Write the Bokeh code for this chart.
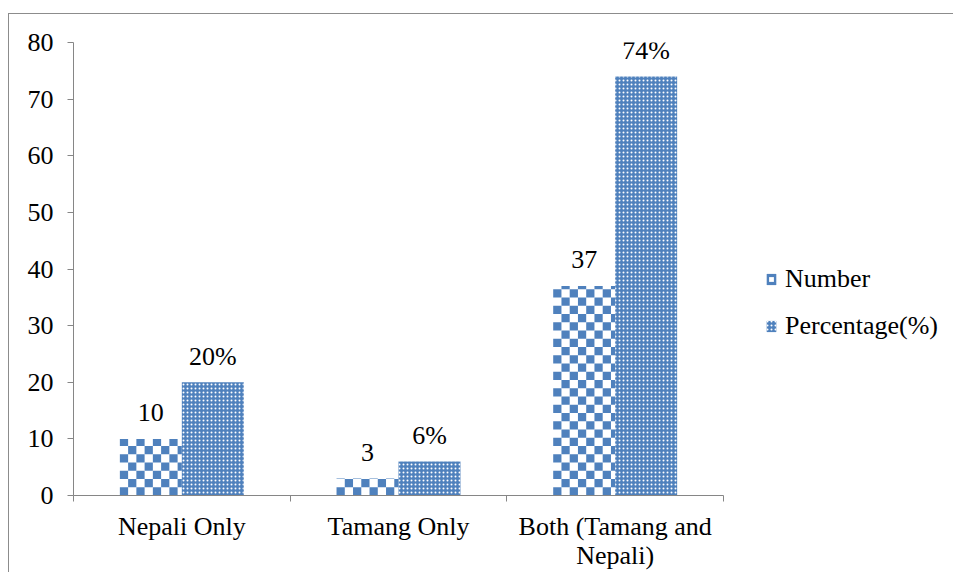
import numpy as np
from bokeh.plotting import figure
from bokeh.models import Range1d, FixedTicker, ColumnDataSource, Legend, LegendItem
from bokeh.core.properties import value
from bokeh.embed import file_html
from bokeh.resources import INLINE

# ---- data ----
categories = ["Nepali Only", "Tamang Only", "Both (Tamang and\nNepali)"]
number_values = [10, 3, 37]
percentage_values = [20, 6, 74]
number_labels = ["10", "3", "37"]
percentage_labels = ["20%", "6%", "74%"]
series_names = ["Number", "Percentage(%)"]
y_ticks = [0, 10, 20, 30, 40, 50, 60, 70, 80]

BLUE = "#4F81BD"
AXIS = "#868686"
FONT = "Liberation Serif"
FS = "26px"
BAR_W = 0.286
FRAME_W = 650
FRAME_H = 453
EXTRA_W = 220  # room at the right of the frame for the legend
CELL_PX = 8.25  # checker cell size in screen pixels

idx = np.arange(len(categories)) + 0.5
num_x = idx - BAR_W / 2
pct_x = idx + BAR_W / 2
src_num = ColumnDataSource(dict(x=num_x, top=number_values, label=number_labels))
src_pct = ColumnDataSource(dict(x=pct_x, top=percentage_values, label=percentage_labels))

# checkerboard cells that fill each "Number" bar (derived from the bar data)
cx = CELL_PX / (FRAME_W / 3.0)
cy = CELL_PX / (FRAME_H / 80.0)
L, R, B, T = [], [], [], []
for xc, v in zip(num_x, number_values):
    left, right = xc - BAR_W / 2, xc + BAR_W / 2
    ncol = int(np.ceil(BAR_W / cx))
    nrow = int(np.ceil(v / cy))
    for r in range(nrow):
        for c in range(ncol):
            if (r + c) % 2 == 0:
                L.append(left + c * cx)
                R.append(min(left + (c + 1) * cx, right))
                B.append(r * cy)
                T.append(min((r + 1) * cy, v))
src_cells = ColumnDataSource(dict(left=L, right=R, bottom=B, top=T))

x_end = 3 * (FRAME_W + EXTRA_W) / FRAME_W
p = figure(frame_width=FRAME_W + EXTRA_W, frame_height=FRAME_H,
           x_range=Range1d(0, x_end), y_range=Range1d(0, 80),
           output_backend="svg", toolbar_location=None,
           min_border_left=64, min_border_right=10,
           min_border_top=28, min_border_bottom=77)
p.styles = {"margin-top": "13px", "margin-left": "8px",
            "border-left": "1px solid #8c8c8c", "border-top": "1px solid #8c8c8c"}

r_cells = p.quad(left="left", right="right", bottom="bottom", top="top", source=src_cells,
                 fill_color=BLUE, line_color=None)
r_pct = p.vbar(x="x", top="top", width=BAR_W, source=src_pct,
               fill_color=BLUE, line_color=None,
               hatch_pattern="dot", hatch_color="white", hatch_scale=4, hatch_weight=1)
# zero-size marker: invisible on the plot, gives the white notch in the legend swatch
r_notch = p.scatter(x="x", y="top", source=src_num, size=0, marker="square",
                    fill_color="white", line_color=None)

for src in (src_num, src_pct):
    p.text(x="x", y="top", text="label", source=src,
           text_font=value(FONT), text_font_size=FS, text_color="black",
           text_align="center", text_baseline="alphabetic", y_offset=-26)

p.xgrid.visible = False
p.ygrid.visible = False
p.outline_line_color = None
p.background_fill_color = "white"
p.border_fill_color = "white"

xa = p.xaxis[0]
xa.bounds = (0, 3)
xa.ticker = FixedTicker(ticks=list(idx), minor_ticks=[0, 1, 2, 3])
xa.major_label_overrides = {float(v): c for v, c in zip(idx, categories)}
xa.major_tick_line_color = None
xa.major_tick_out = 6
xa.major_tick_in = 0
xa.minor_tick_out = 6
xa.minor_tick_in = 0
xa.minor_tick_line_color = AXIS
xa.axis_line_color = AXIS
xa.major_label_text_font = FONT
xa.major_label_text_font_size = FS
xa.major_label_text_color = "black"
xa.major_label_text_line_height = 1.0
xa.major_label_standoff = 10

ya = p.yaxis[0]
ya.ticker = FixedTicker(ticks=y_ticks)
ya.major_tick_out = 6
ya.major_tick_in = 0
ya.minor_tick_line_color = None
ya.major_tick_line_color = AXIS
ya.axis_line_color = AXIS
ya.major_label_text_font = FONT
ya.major_label_text_font_size = FS
ya.major_label_text_color = "black"
ya.major_label_standoff = 14

legend = Legend(items=[LegendItem(label=series_names[0], renderers=[r_cells, r_notch]),
                       LegendItem(label=series_names[1], renderers=[r_pct])],
                location=(692, 154), orientation="vertical",
                label_text_font=FONT, label_text_font_size=FS, label_text_color="black",
                glyph_width=12, glyph_height=14, label_standoff=8,
                label_height=30, spacing=17, padding=0, margin=0,
                border_line_color=None, background_fill_alpha=0)
p.add_layout(legend, "center")

open("out.html", "w").write(file_html(p, INLINE))
